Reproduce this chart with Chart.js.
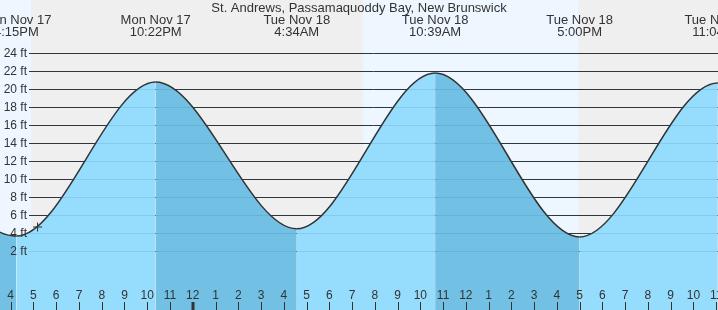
<!DOCTYPE html>
<html>
<head>
<meta charset="utf-8">
<script src="https://cdn.jsdelivr.net/npm/chart.js@4.4.1/dist/chart.umd.min.js"></script>
<style>
  body { margin: 0; background: #fff; }
  #wrap { width: 718px; height: 310px; position: relative; }
</style>
</head>
<body>
<div id="wrap"><canvas id="tide-chart"></canvas></div>
<script>
// Heures comptées depuis lundi 17 nov. 00:00
const tideTimes   = [10.08, 16.25, 22.37, 28.57, 34.65, 41.0, 47.07, 53.33];
const tideHeights = [19.8, 3.7, 20.8, 4.5, 21.8, 3.6, 20.7, 4.0];
const tideDays    = ["Mon Nov 17", "Mon Nov 17", "Mon Nov 17", "Tue Nov 18", "Tue Nov 18", "Tue Nov 18", "Tue Nov 18", "Wed Nov 19"];
const tideClock   = ["10:05AM", "4:15PM", "10:22PM", "4:34AM", "10:39AM", "5:00PM", "11:04PM", "5:20AM"];

// Jour (lever, coucher)
const daylight = [[7.45, 16.89], [31.49, 40.94]];

// Marqueur "maintenant"
const nowTime = 17.18;
const nowHeight = 4.7;

const gridFeet = [2, 4, 6, 8, 10, 12, 14, 16, 18, 20, 22, 24];
const hourTicks = [];
for (let h = 16; h <= 47; h++) hourTicks.push(h);

const title = "St. Andrews, Passamaquoddy Bay, New Brunswick";

const LIGHT = "#96dcfc";
const DARK = "#72c0e4";
const TEXT = "#333";

const decorPlugin = {
    id: "tideDecor",
    beforeDatasetsDraw(chart) {
        const { ctx, chartArea: a, scales: { x, y } } = chart;
        ctx.save();
        ctx.fillStyle = "#efefef";
        ctx.fillRect(a.left, a.top, a.width, a.height);
        ctx.fillStyle = "#eef7ff";
        daylight.forEach(([s, e]) => {
            const x0 = x.getPixelForValue(s);
            const x1 = x.getPixelForValue(e);
            ctx.fillRect(x0, a.top, x1 - x0, a.height);
        });
        // lignes de grille (au-dessus de la marée)
        ctx.strokeStyle = "#333";
        ctx.lineWidth = 1;
        gridFeet.forEach(f => {
            const py = Math.round(y.getPixelForValue(f)) + 0.5;
            ctx.beginPath();
            ctx.moveTo(29, py);
            ctx.lineTo(a.right, py);
            ctx.stroke();
        });
        ctx.restore();
    },
    afterDatasetsDraw(chart) {
        const { ctx, chartArea: a, scales: { x, y } } = chart;
        ctx.save();
        // lignes pâles dans l'eau
        ctx.strokeStyle = "rgba(0, 90, 150, 0.12)";
        ctx.lineWidth = 1;
        gridFeet.forEach(f => {
            const py = Math.round(y.getPixelForValue(f)) + 0.5;
            ctx.beginPath();
            ctx.moveTo(29, py);
            ctx.lineTo(a.right, py);
            ctx.stroke();
        });

        ctx.fillStyle = TEXT;
        // étiquettes en pieds
        ctx.font = "12px 'Liberation Sans', Arial, sans-serif";
        ctx.textAlign = "right";
        ctx.textBaseline = "middle";
        gridFeet.forEach(f => {
            ctx.fillText(f + " ft", 27, y.getPixelForValue(f));
        });

        // heures en bas
        ctx.textAlign = "center";
        ctx.textBaseline = "alphabetic";
        ctx.strokeStyle = TEXT;
        hourTicks.forEach(h => {
            const px = x.getPixelForValue(h);
            const label = (h % 12) || 12;
            ctx.fillText(String(label), px, 299);
            const midnight = h % 24 === 0;
            ctx.lineWidth = midnight ? 3 : 1;
            const tx = midnight ? Math.round(px) : Math.round(px) + 0.5;
            ctx.beginPath();
            ctx.moveTo(tx, 302);
            ctx.lineTo(tx, a.bottom);
            ctx.stroke();
        });

        // en-têtes des marées
        ctx.font = "13px 'Liberation Sans', Arial, sans-serif";
        tideTimes.forEach((t, i) => {
            const px = x.getPixelForValue(t);
            ctx.fillText(tideDays[i], px, 24);
            ctx.fillText(tideClock[i], px, 36);
        });

        // titre
        ctx.fillText(title, (a.left + a.right) / 2, 12);
        ctx.restore();
    }
};

const tidePoints = tideTimes.map((t, i) => ({ x: t, y: tideHeights[i] }));

new Chart(document.getElementById("tide-chart"), {
    type: "line",
    data: {
        datasets: [
            {
                data: tidePoints,
                order: 1,
                borderColor: "#333",
                borderWidth: 1.5,
                backgroundColor: LIGHT,
                fill: "start",
                cubicInterpolationMode: "monotone",
                pointRadius: 0,
                segment: {
                    // marée descendante plus foncée
                    backgroundColor: c => (c.p1.parsed.y < c.p0.parsed.y ? DARK : LIGHT),
                },
            },
            {
                data: [{ x: nowTime, y: nowHeight }],
                order: 0,
                showLine: false,
                pointStyle: "cross",
                pointRadius: 4.5,
                borderColor: "#333",
                borderWidth: 1,
            },
        ],
    },
    options: {
        responsive: true,
        maintainAspectRatio: false,
        animation: false,
        layout: { padding: 0, autoPadding: false },
        plugins: {
            legend: { display: false },
            tooltip: { enabled: false },
        },
        scales: {
            x: { type: "linear", min: 15.53, max: 47.08, display: false },
            y: { min: -4.52, max: 29.92, display: false },
        },
    },
    plugins: [decorPlugin],
});
</script>
</body>
</html>
